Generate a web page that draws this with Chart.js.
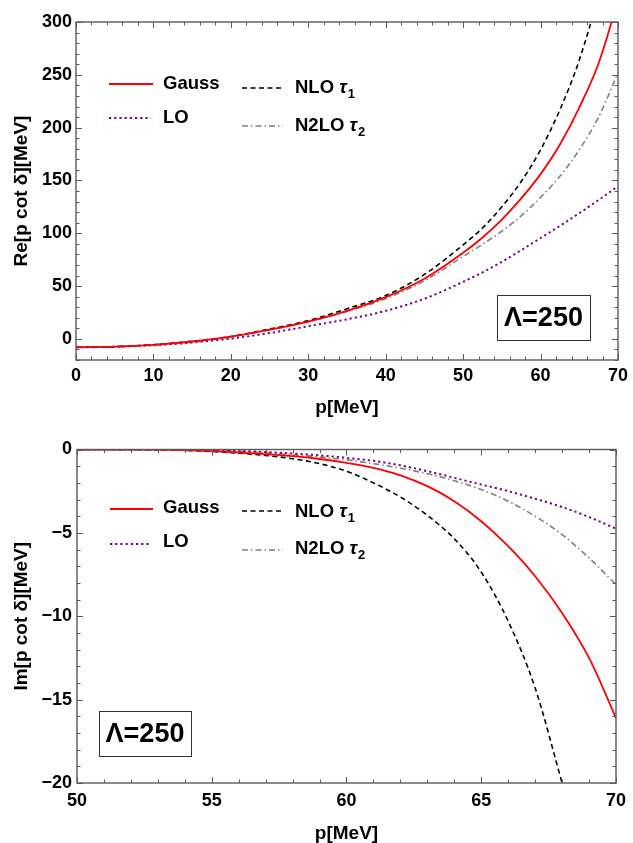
<!DOCTYPE html>
<html><head><meta charset="utf-8">
<script src="https://cdn.jsdelivr.net/npm/chart.js@4.4.1/dist/chart.umd.min.js"></script>
<style>
html,body{margin:0;padding:0;background:#fff;}
#wrap{position:relative;width:633px;height:843px;overflow:hidden;}
canvas{position:absolute;left:0;}
#c1{top:0;width:633px;height:425px;}
#c2{top:425px;width:633px;height:418px;}
</style></head><body>
<div id="wrap"><canvas id="c1" width="633" height="425"></canvas><canvas id="c2" width="633" height="418"></canvas></div>
<script>
// ---------- data ----------
const seriesNames = ['Gauss', 'LO', 'NLO τ1', 'N2LO τ2'];

// Top panel: Re[p cot δ] vs p
const pRe = [0,5,10,15,20,25,30,35,40,45,50,52.5,55,57.5,60,62.5,65,67.5,70];
const reGauss = [-8,-7.4,-5.6,-2.5,2.1,8.7,16.4,26.5,39.5,57,81.5,96,113,133,156,184,219,261,320];
const reLO    = [-8,-7.5,-6,-3.5,0.3,5.5,12,18.5,26.5,38,54,63,73,84,95.5,107,119,131.5,144.5];
const reNLO   = [-8,-7.4,-5.5,-2.3,2.3,9.3,17.3,28.5,41,61,89,105,125,149,179,217,264,328,420];
const reN2LO  = [-8,-7.4,-5.6,-2.5,2,8.5,16.3,26,38,55,78,89.5,102,116.5,134,154,179,210,252];
const xTicksRe = [0,10,20,30,40,50,60,70];
const yTicksRe = [0,50,100,150,200,250,300];

// Bottom panel: Im[p cot δ] vs p
const pIm = [50,51,52,53,54,55,56,57,58,59,60,61,62,63,64,65,66,67,68,69,70];
const imGauss = [0,0,0,-0.01,-0.04,-0.1,-0.18,-0.28,-0.4,-0.57,-0.8,-1.1,-1.55,-2.2,-3.1,-4.3,-5.8,-7.6,-9.8,-12.5,-16.1];
const imLO    = [0,0,0,0,-0.01,-0.03,-0.08,-0.15,-0.24,-0.35,-0.5,-0.68,-0.95,-1.3,-1.7,-2.1,-2.5,-2.95,-3.45,-4.05,-4.75];
const imNLO   = [0,0,0,-0.02,-0.05,-0.12,-0.22,-0.36,-0.55,-0.85,-1.3,-2.0,-2.85,-3.95,-5.35,-7.35,-10.3,-14.3,-20.0,null,null];
const imN2LO  = [0,0,0,0,-0.02,-0.05,-0.1,-0.2,-0.32,-0.45,-0.62,-0.85,-1.12,-1.45,-1.87,-2.4,-3.1,-4.0,-5.1,-6.5,-8.1];
const xTicksIm = [50,55,60,65,70];
const yTicksIm = [0,-5,-10,-15,-20];

const tagText = 'Λ=250';

// ---------- styles ----------
const FONT = '"Liberation Sans", Arial, Helvetica, sans-serif';
const FRAME = '#5a5a5a';
const styles = [
  {borderColor:'#ff0000', borderWidth:1.8, borderDash:[]},
  {borderColor:'#800080', borderWidth:2, borderDash:[2.2,3]},
  {borderColor:'#000000', borderWidth:1.6, borderDash:[5,3.5]},
  {borderColor:'#808080', borderWidth:1.6, borderDash:[6,3,1.5,3]}
];

function pts(xs, ys){ return xs.map((x,i)=>({x:x, y:ys[i]})).filter(d=>d.y!==null); }
function mkDatasets(xs, arrs){
  return arrs.map((a,i)=>Object.assign({
    label: seriesNames[i], data: pts(xs,a), pointRadius:0, fill:false,
    cubicInterpolationMode:'monotone', spanGaps:false, clip:{left:0,right:0,top:0,bottom:0}
  }, styles[i]));
}
const fmt = v => v < 0 ? '\u2212' + Math.abs(v) : String(v);

// ---------- plugins ----------
const frameTicks = {
  id:'frameTicks',
  afterDatasetsDraw(chart, args, o){
    const {ctx, chartArea:a} = chart;
    const xs = chart.scales.x, ys = chart.scales.y;
    const eps = 1e-6;
    ctx.save();
    ctx.strokeStyle = FRAME; ctx.lineWidth = 1;
    ctx.beginPath();
    for (let i=0;;i++){
      const v = o.xMin + i*o.xMinor; if (v > o.xMax+eps) break;
      const px = Math.round(xs.getPixelForValue(v))+0.5;
      const len = Math.abs(v/o.xMajor - Math.round(v/o.xMajor))<eps ? o.major : o.minor;
      ctx.moveTo(px, a.bottom); ctx.lineTo(px, a.bottom-len);
      ctx.moveTo(px, a.top); ctx.lineTo(px, a.top+len);
    }
    for (let i=0;;i++){
      const v = o.yMin + i*o.yMinor; if (v > o.yMax+eps) break;
      const py = Math.round(ys.getPixelForValue(v))+0.5;
      const len = Math.abs(v/o.yMajor - Math.round(v/o.yMajor))<eps ? o.major : o.minor;
      ctx.moveTo(a.left, py); ctx.lineTo(a.left+len, py);
      ctx.moveTo(a.right, py); ctx.lineTo(a.right-len, py);
    }
    ctx.stroke();
    ctx.lineWidth = 1.4;
    ctx.strokeRect(a.left, a.top, a.right-a.left, a.bottom-a.top);
    ctx.restore();
  }
};

function drawLabel(ctx, text, x, y){
  const m = text.match(/^(.*?)τ(\d)$/);
  ctx.font = 'bold 18.5px ' + FONT;
  if (!m){ ctx.fillText(text, x, y); return; }
  ctx.fillText(m[1], x, y);
  x += ctx.measureText(m[1]).width;
  ctx.font = 'italic bold 18.5px ' + FONT;
  ctx.fillText('τ', x, y);
  x += ctx.measureText('τ').width + 1;
  ctx.font = 'bold 13px ' + FONT;
  ctx.fillText(m[2], x, y+6);
}

const innerLegend = {
  id:'innerLegend',
  afterDraw(chart, args, o){
    const ctx = chart.ctx;
    ctx.save();
    o.items.forEach(it=>{
      const ds = chart.data.datasets[it.ds];
      ctx.strokeStyle = ds.borderColor; ctx.lineWidth = ds.borderWidth;
      ctx.setLineDash(ds.borderDash||[]);
      ctx.beginPath(); ctx.moveTo(it.x0, it.ly); ctx.lineTo(it.x1, it.ly); ctx.stroke();
      ctx.setLineDash([]);
      ctx.fillStyle = '#000'; ctx.textAlign='left'; ctx.textBaseline='middle';
      drawLabel(ctx, ds.label, it.tx, it.ty);
    });
    const t = o.tag;
    ctx.strokeStyle = '#333'; ctx.lineWidth = 1;
    ctx.strokeRect(t.x+0.5, t.y+0.5, t.w, t.h);
    ctx.fillStyle = '#000'; ctx.textAlign='center'; ctx.textBaseline='middle';
    ctx.font = 'bold 27px ' + FONT;
    ctx.fillText(tagText, t.x + t.w/2, t.y + t.h/2 + 1);
    ctx.restore();
  }
};

Chart.defaults.font.family = FONT;
Chart.defaults.color = '#000';

function makeChart(id, cfg){
  return new Chart(document.getElementById(id), {
    type:'line',
    data:{datasets: cfg.datasets},
    plugins:[frameTicks, innerLegend],
    options:{
      responsive:false, animation:false, devicePixelRatio:1,
      layout:{padding:{top:cfg.padTop, right:11, left:0, bottom:0}},
      plugins:{
        legend:{display:false}, tooltip:{enabled:false},
        frameTicks: cfg.frame,
        innerLegend: {items: cfg.legend, tag: cfg.tag}
      },
      scales:{
        x:{
          type:'linear', min:cfg.xMin, max:cfg.xMax,
          grid:{display:false, drawTicks:false}, border:{display:false},
          afterBuildTicks: s => { s.ticks = cfg.xTicks.map(v=>({value:v})); },
          afterFit: s => { s.height = cfg.xHeight; },
          ticks:{color:'#000', font:{size:18, weight:'bold'}, padding:cfg.xPad, maxRotation:0, autoSkip:false, callback: fmt},
          title:{display:true, text:'p[MeV]', color:'#000', font:{size:19, weight:'bold', lineHeight:1}, padding:{top:0, bottom:cfg.xTitlePad}}
        },
        y:{
          type:'linear', min:cfg.yMin, max:cfg.yMax,
          grid:{display:false, drawTicks:false}, border:{display:false},
          afterBuildTicks: s => { s.ticks = cfg.yTicks.map(v=>({value:v})); },
          afterFit: s => { s.width = cfg.yWidth; },
          ticks:{color:'#000', font:{size:18, weight:'bold'}, padding:cfg.yPad, autoSkip:false, callback: fmt},
          title:{display:true, text:cfg.yTitle, color:'#000', font:{size:19, weight:'bold', lineHeight:1}, padding:{top:12, bottom:0}}
        }
      }
    }
  });
}

makeChart('c1', {
  datasets: mkDatasets(pRe, [reGauss, reLO, reNLO, reN2LO]),
  xMin:0, xMax:70, yMin:-20, yMax:300, xTicks:xTicksRe, yTicks:yTicksRe,
  padTop:22, xHeight:65, xPad:5, xTitlePad:7.5, yWidth:76, yPad:4,
  yTitle:'Re[p cot δ][MeV]',
  frame:{xMin:0, xMax:70, xMinor:2, xMajor:10, yMin:-20, yMax:300, yMinor:10, yMajor:50, major:6, minor:3.5},
  legend:[
    {ds:0, x0:109, x1:153, ly:84, tx:163, ty:84},
    {ds:1, x0:109, x1:151, ly:118, tx:163, ty:118},
    {ds:2, x0:242, x1:283, ly:88, tx:295, ty:88},
    {ds:3, x0:242, x1:283, ly:126, tx:295, ty:126}
  ],
  tag:{x:497, y:295, w:93, h:45}
});

makeChart('c2', {
  datasets: mkDatasets(pIm, [imGauss, imLO, imNLO, imN2LO]),
  xMin:50, xMax:70, yMin:-20, yMax:0, xTicks:xTicksIm, yTicks:yTicksIm,
  padTop:24.5, xHeight:60, xPad:7, xTitlePad:0, yWidth:77, yPad:5,
  yTitle:'Im[p cot δ][MeV]',
  frame:{xMin:50, xMax:70, xMinor:1, xMajor:5, yMin:-20, yMax:0, yMinor:1, yMajor:5, major:6, minor:3.5},
  legend:[
    {ds:0, x0:110, x1:153, ly:84, tx:163, ty:83},
    {ds:1, x0:110, x1:151, ly:119, tx:163, ty:117},
    {ds:2, x0:242, x1:283, ly:86, tx:295, ty:87},
    {ds:3, x0:242, x1:283, ly:125, tx:295, ty:124}
  ],
  tag:{x:99, y:286, w:92, h:45}
});
</script>
</body></html>
